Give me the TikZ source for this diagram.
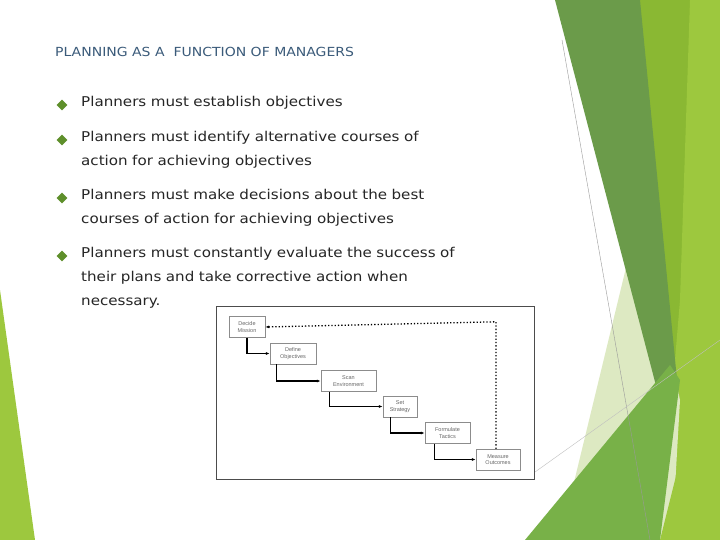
\documentclass[tikz,border=0pt]{standalone}
\usepackage{fontspec}
\setmainfont{DejaVu Sans}
\newfontfamily\bodyfont[FakeStretch=1.12]{DejaVu Sans}
\newfontfamily\titlefont[FakeStretch=1.12]{DejaVu Sans}
\newfontfamily\boxfont{Liberation Sans}
\usetikzlibrary{arrows.meta,shapes.geometric}
\definecolor{titlec}{HTML}{3B5B7A}
\definecolor{bulc}{HTML}{5E8F2B}
\definecolor{darkg}{HTML}{6B9B4A}
\definecolor{midg}{HTML}{8AB833}
\definecolor{brg}{HTML}{9DC83E}
\definecolor{paleg}{HTML}{DDE9C2}
\definecolor{botg}{HTML}{78B148}
\begin{document}
\begin{tikzpicture}[x=1pt,y=-1pt,
  bul/.style={fill=bulc,inner sep=0pt,minimum size=11pt,shape=diamond},
  txt/.style={anchor=north west,inner sep=0pt,text width=480pt,align=left,font=\bodyfont\fontsize{13.5}{24}\selectfont,text=black!85},
  sbox/.style={draw=black!45,fill=white,inner sep=1pt,font=\boxfont\fontsize{5.5}{6.5}\selectfont,text=black!60,align=center,minimum height=21pt},
  stepline/.style={line width=1.3pt,-{Latex[length=4pt]}},
  back/.style={line width=1.3pt,dotted,-{Latex[length=4pt]}}]
\useasboundingbox (0,0) rectangle (720,540);
\fill[white] (0,0) rectangle (720,540);
% decorations right
\fill[midg] (637,0) -- (720,0) -- (720,540) -- (640,540) -- cycle;
\fill[brg] (690,0) -- (720,0) -- (720,540) -- (660,540) -- (680,300) -- cycle;
\fill[paleg] (640,210) -- (680,400) -- (672,540) -- (560,540) -- cycle;
\fill[darkg] (555,0) -- (640,0) -- (678,390) -- (665,420) -- cycle;
\fill[botg] (525,540) -- (670,365) -- (680,380) -- (660,540) -- cycle;
\fill[brg] (660,540) -- (690,420) -- (720,380) -- (720,540) -- cycle;
\draw[black!40,line width=0.4pt] (562,40) -- (650,540);
\draw[black!25,line width=0.4pt] (535,472) -- (720,340);
% left bottom triangle
\fill[brg] (0,290) -- (35,540) -- (0,540) -- cycle;
% title
\node[anchor=west,inner sep=0pt,text=titlec,font=\titlefont\fontsize{12.5}{14}\selectfont] (title) at (55,52) {PLANNING AS A\ \ FUNCTION OF MANAGERS};
% bullets
\node[bul] (b1) at (62,105) {};
\node[txt] (t1) at (81,96) {Planners must establish objectives};
\node[bul] (b2) at (62,140) {};
\node[txt] (t2) at (81,131) {Planners must identify alternative courses of\\action for achieving objectives};
\node[bul] (b3) at (62,198) {};
\node[txt] (t3) at (81,189) {Planners must make decisions about the best\\courses of action for achieving objectives};
\node[bul] (b4) at (62,256) {};
\node[txt] (t4) at (81,247) {Planners must constantly evaluate the success of\\their plans and take corrective action when\\necessary.};
% diagram
\draw[black!70,fill=white,line width=0.6pt] (216,306) rectangle (534,479);
\node[sbox,minimum width=36pt] (m1) at (247,327) {Decide\\Mission};
\node[sbox,minimum width=46pt] (m2) at (293,353.5) {Define\\Objectives};
\node[sbox,minimum width=55pt] (m3) at (348.5,381) {Scan\\Environment};
\node[sbox,minimum width=34pt] (m4) at (400,406.5) {Set\\Strategy};
\node[sbox,minimum width=45pt] (m5) at (447.5,433) {Formulate\\Tactics};
\node[sbox,minimum width=44pt] (m6) at (498,459.5) {Measure\\Outcomes};
\draw[stepline] (m1.south) |- (m2.west);
\draw[stepline] (m2.south west) ++(7,0) |- (m3.west);
\draw[stepline] (m3.south west) ++(9,0) |- (m4.west);
\draw[stepline] (m4.south west) ++(8,0) |- (m5.west);
\draw[stepline] (m5.south west) ++(10,0) |- (m6.west);
\draw[back] (m6.north) ++(-2,0) -- ++(0,-127) -- (m1.east);
\end{tikzpicture}
\end{document}
